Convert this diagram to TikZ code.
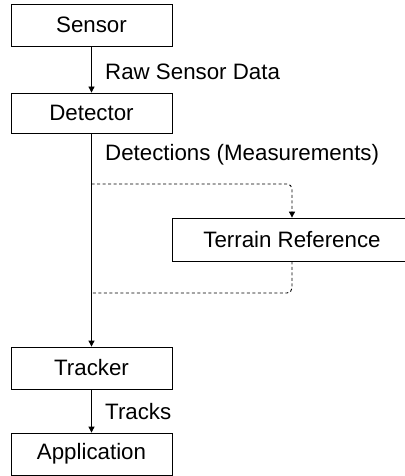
\documentclass[tikz,border=0pt]{standalone}
\usepackage{fontspec}
\setmainfont{Liberation Sans}
\usetikzlibrary{arrows.meta, positioning}

\begin{document}
\begin{tikzpicture}[x = 1pt, y = -1pt,
		font = \fontsize{22.3}{25}\selectfont,
		block/.style = {draw, line width = 0.8pt, minimum width = 161pt, minimum height = 42pt, inner sep = 0pt},
		flow/.style = {line width = 0.8pt, -{Triangle[length = 6pt, width = 6pt]}},
		aside/.style = {line width = 0.9pt, dash pattern = on 3pt off 2.5pt, rounded corners = 5pt},
		label/.style = {anchor = west, inner sep = 0pt}]
					\def\colX{91.5};
					\def\labX{105};

					\useasboundingbox (0,0) rectangle (404,476);

					% main chain
					\node[block] (sensor) at (\colX,25) {Sensor};
					\node[block, minimum height = 40pt] (detector) at (\colX,113) {Detector};
					\node[block] (tracker) at (\colX,368) {Tracker};
					\node[block] (application) at (\colX,454) {Application};

					\node[block, minimum width = 240pt, minimum height = 43pt] (terrain) at (292,239.5) {Terrain Reference};

					\begin{scope}
						\draw[flow] (sensor) -- (detector);
						\draw[flow] (detector) -- (tracker);
						\draw[flow] (tracker) -- (application);
					\end{scope}

					\node[label] (rawlab) at (\labX,72) {Raw Sensor Data};
					\node[label] (detlab) at (\labX,155) {Detections (Measurements)};
					\node[label] (tracklab) at (\labX,412) {Tracks};

					% terrain detour
					\coordinate (tapout) at (\colX,184);
					\coordinate (tapin) at (\colX,293);
					\begin{scope}
						\draw[aside, -{Triangle[length = 6pt, width = 6pt]}] (tapout) -| (terrain.north);
						\draw[aside] (terrain.south) |- (tapin);
					\end{scope}
				\end{tikzpicture}
\end{document}
